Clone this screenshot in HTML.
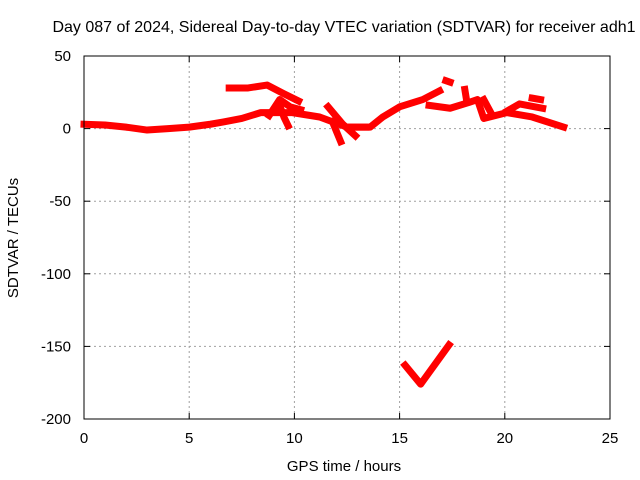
<!DOCTYPE html>
<html><head><meta charset="utf-8"><style>
body{margin:0;background:#fff;}
svg{display:block;font-family:"Liberation Sans",sans-serif;}
</style></head><body>
<svg id="chart" width="640" height="480">
<text x="344" y="32" font-size="16" text-anchor="middle">Day 087 of 2024, Sidereal Day-to-day VTEC variation (SDTVAR) for receiver adh1</text>
<text x="344" y="471" font-size="15" text-anchor="middle">GPS time / hours</text>
<text x="18" y="238" font-size="15" text-anchor="middle" transform="rotate(-90 18 238)">SDTVAR / TECUs</text>
<g id="grid"></g><g id="marks"></g>
<rect x="84" y="56" width="526" height="363" fill="none" stroke="#000" stroke-width="1"/>
</svg>
<script>
const xTicks=[0,5,10,15,20,25];
const yTicks=[-200,-150,-100,-50,0,50];
const segMainH=[0,1,2,3,4,5,6,6.6,7.5,8.4,9.9,11.2,12.5,13.4];
const segMainV=[3,2.5,1,-1,0,1,3,4.5,7,11,11,8,1,1];
const segUpperH=[6.9,7.8,8.7,9.5,10.2];
const segUpperV=[28,28,30,24,19];
const segBranchH=[8.8,9.3,9.8,10.3];
const segBranchV=[9,20,15,13];
const segDropH=[9.3,9.5,9.7];
const segDropV=[16,8,2];
const segE_H=[11.6,12.3,12.9];
const segE_V=[15,3,-5];
const segF_H=[11.8,12.2];
const segF_V=[5,-9];
const segRiseH=[12.6,13.6,14.2,15,16.1,16.9];
const segRiseV=[1,1,8,15,20,26];
const segMidH=[16.4,17.4,18.3,18.7,19,20.1,21.3,22.8];
const segMidV=[16,14,18,20,7,11,8,1];
const segHighH=[20.1,20.7,21.8];
const segHighV=[12,17,14];
const segBlob1H=[17.2,17.4];const segBlob1V=[33,32];
const segBlob2H=[18.1,18.2];const segBlob2V=[27,18];
const segBlob3H=[19,19.3];const segBlob3V=[20,12];
const segBlob4H=[21.3,21.7];const segBlob4V=[21,20];
const segLowH=[15.26,16,17.35];
const segLowV=[-163,-176,-149];
const series=[[segMainH,segMainV],[segUpperH,segUpperV],[segBranchH,segBranchV],[segDropH,segDropV],[segE_H,segE_V],[segF_H,segF_V],[segRiseH,segRiseV],[segMidH,segMidV],[segHighH,segHighV],[segBlob1H,segBlob1V],[segBlob2H,segBlob2V],[segBlob3H,segBlob3V],[segBlob4H,segBlob4V],[segLowH,segLowV]];
const X0=84,X1=610,Y0=419,Y1=56;
function xs(h){return X0+(h-0)/(25-0)*(X1-X0);}
function ys(v){return Y0-(v+200)/(250)*(Y0-Y1);}
const NS="http://www.w3.org/2000/svg";
const grid=document.getElementById('grid'),marks=document.getElementById('marks');
function mk(t,a,p){const e=document.createElementNS(NS,t);for(const k in a)e.setAttribute(k,a[k]);p.appendChild(e);return e;}
xTicks.forEach(t=>{const x=xs(t);
 if(t>0&&t<25){const g=mk('line',{x1:x,x2:x,y1:Y1,y2:Y0,stroke:'#a0a0a0','stroke-dasharray':'2,3'},grid);
 
 }
 mk('line',{x1:x,x2:x,y1:Y0,y2:Y0-6,stroke:'#000'},grid);
 mk('line',{x1:x,x2:x,y1:Y1,y2:Y1+6,stroke:'#000'},grid);
 const l=mk('text',{x:x,y:Y0+24,'font-size':15,'text-anchor':'middle'},grid);l.textContent=t;
 
 });
yTicks.forEach(t=>{const y=ys(t);
 if(t>-200&&t<50){const g=mk('line',{x1:X0,x2:X1,y1:y,y2:y,stroke:'#a0a0a0','stroke-dasharray':'2,3'},grid);
 
 }
 mk('line',{x1:X0,x2:X0+6,y1:y,y2:y,stroke:'#000'},grid);
 mk('line',{x1:X1,x2:X1-6,y1:y,y2:y,stroke:'#000'},grid);
 const l=mk('text',{x:X0-13,y:y+5,'font-size':15,'text-anchor':'end'},grid);l.textContent=t;
 
 });
series.forEach(([H,V])=>{const pts=H.map((h,i)=>xs(h)+','+ys(V[i])).join(' ');
 const p=mk('polyline',{points:pts,fill:'none',stroke:'#f00','stroke-width':7,'stroke-linejoin':'round','stroke-linecap':'square'},marks);
 
 });
</script>
</body></html>
